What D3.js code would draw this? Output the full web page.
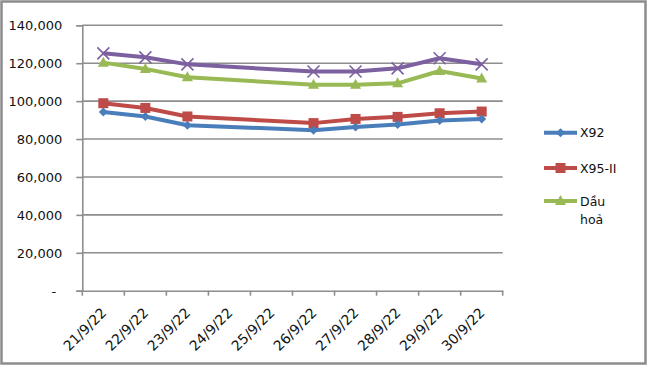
<!DOCTYPE html>
<html><head><meta charset="utf-8">
<script src="https://cdn.jsdelivr.net/npm/d3@7"></script>
<style>body{margin:0;background:#fff}svg{display:block}</style>
</head><body>
<svg id="c" width="650" height="367"></svg>
<script>
const categories = ["21/9/22","22/9/22","23/9/22","24/9/22","25/9/22","26/9/22","27/9/22","28/9/22","29/9/22","30/9/22"];
const yTicks = [0,20000,40000,60000,80000,100000,120000,140000];
const x92    = [94300, 91900, 87300, null, null, 84700, 86400, 87700, 89800, 90600];
const x95    = [98900, 96400, 91900, null, null, 88400, 90600, 91700, 93600, 94500];
const dauHoa = [120300,117000,112600, null, null, 108700,108700,109400,115900,111900];
const dauDo  = [125200,123100,119400, null, null, 115600,115600,117300,122600,119400];
const seriesNames = ["X92","X95-II","Dầu hoả",""];

const series = [
  {name: seriesNames[0], values: x92, color:"#4a7ebb", marker:"diamond", legend:true},
  {name: seriesNames[1], values: x95, color:"#be4b48", marker:"square", legend:true},
  {name: seriesNames[2], values: dauHoa, color:"#98b954", marker:"triangle", legend:true},
  {name: seriesNames[3], values: dauDo, color:"#7d60a0", marker:"x", legend:false}
];

const svg = d3.select("#c");
const font = "DejaVu Sans, Verdana, sans-serif";
svg.append("rect").attr("x",1.5).attr("y",1.5).attr("width",644).attr("height",362)
  .attr("fill","#fff").attr("stroke","#8c8c8c").attr("stroke-width",2.5);

const pL=82.3, pR=502.7, pT=25.3, pB=290.7;
const x = d3.scaleBand().domain(categories).range([pL,pR]);
const y = d3.scaleLinear().domain([0,140000]).range([pB,pT]);

// gridlines
svg.append("g").selectAll("line").data(yTicks.filter(d=>d>0)).join("line")
  .attr("x1",pL).attr("x2",pR).attr("y1",d=>y(d)).attr("y2",d=>y(d))
  .attr("stroke","#8e8e8e").attr("stroke-width",1.6);

// y axis
const yAxis = d3.axisLeft(y).tickValues(yTicks).tickSize(6).tickPadding(14)
  .tickFormat(d=> d===0 ? "-" : d3.format(",")(d));
const gy = svg.append("g").attr("transform",`translate(${pL},0)`).call(yAxis);
gy.select(".domain").attr("stroke","#8e8e8e").attr("stroke-width",1.6);
gy.selectAll(".tick line").attr("stroke","#8e8e8e").attr("stroke-width",1.6);
gy.selectAll("text").attr("font-family",font).attr("font-size",13).attr("fill","#111")
  .attr("dy","0.36em");
gy.selectAll(".tick").filter(d=>d===0).select("text").attr("dx",-6);

// x axis
const gx = svg.append("g").attr("transform",`translate(0,${pB})`)
  .call(d3.axisBottom(x).tickSize(0).tickFormat(""));
gx.select(".domain").attr("stroke","#8e8e8e").attr("stroke-width",1.6);
svg.append("g").selectAll("line").data(d3.range(categories.length+1)).join("line")
  .attr("x1",i=>pL+i*x.bandwidth()).attr("x2",i=>pL+i*x.bandwidth())
  .attr("y1",pB).attr("y2",pB+5).attr("stroke","#8e8e8e").attr("stroke-width",1.6);
svg.append("g").selectAll("text").data(categories).join("text")
  .attr("transform",d=>`translate(${x(d)+x.bandwidth()/2+4},${pB+23}) rotate(-45)`)
  .attr("text-anchor","end").attr("font-family",font).attr("font-size",14).attr("fill","#111")
  .text(d=>d);

const cx = i => x(categories[i]) + x.bandwidth()/2;
const line = d3.line().defined(d=>d.v!=null).x(d=>cx(d.i)).y(d=>y(d.v));

function drawMarker(g, type, color, px, py){
  if(type==="diamond"){
    g.append("path").attr("d",`M${px},${py-4.5}L${px+4.5},${py}L${px},${py+4.5}L${px-4.5},${py}Z`).attr("fill",color);
  } else if(type==="square"){
    g.append("rect").attr("x",px-5).attr("y",py-5).attr("width",10).attr("height",10).attr("fill",color);
  } else if(type==="triangle"){
    g.append("path").attr("d",`M${px},${py-6}L${px+5.5},${py+4}L${px-5.5},${py+4}Z`).attr("fill",color);
  } else if(type==="x"){
    g.append("path").attr("d",`M${px-6},${py-6}L${px+6},${py+6}M${px+6},${py-6}L${px-6},${py+6}`)
      .attr("stroke",color).attr("stroke-width",1.6);
  }
}

series.slice().reverse().forEach(s=>{
  const pts = s.values.map((v,i)=>({v,i})).filter(d=>d.v!=null);
  const g = svg.append("g");
  g.append("path").datum(pts).attr("d",line).attr("fill","none")
    .attr("stroke",s.color).attr("stroke-width",4).attr("stroke-linejoin","round");
  pts.forEach(d=>drawMarker(g,s.marker,s.color,cx(d.i),y(d.v)));
});

// legend
const legY = [132.7,168,201];
series.filter(s=>s.legend).forEach((s,k)=>{
  const g = svg.append("g");
  g.append("line").attr("x1",544).attr("x2",577).attr("y1",legY[k]).attr("y2",legY[k])
    .attr("stroke",s.color).attr("stroke-width",4);
  drawMarker(g,s.marker,s.color,560.5,legY[k]);
  const t = g.append("text").attr("x",580).attr("y",legY[k]).attr("dy","0.36em")
    .attr("font-family",font).attr("font-size",12.5).attr("fill","#111");
  if(s.name==="Dầu hoả"){
    t.append("tspan").attr("x",580).text("Dầu");
    t.append("tspan").attr("x",580).attr("dy","1.5em").text("hoả");
  } else t.text(s.name);
});
</script>
</body></html>
